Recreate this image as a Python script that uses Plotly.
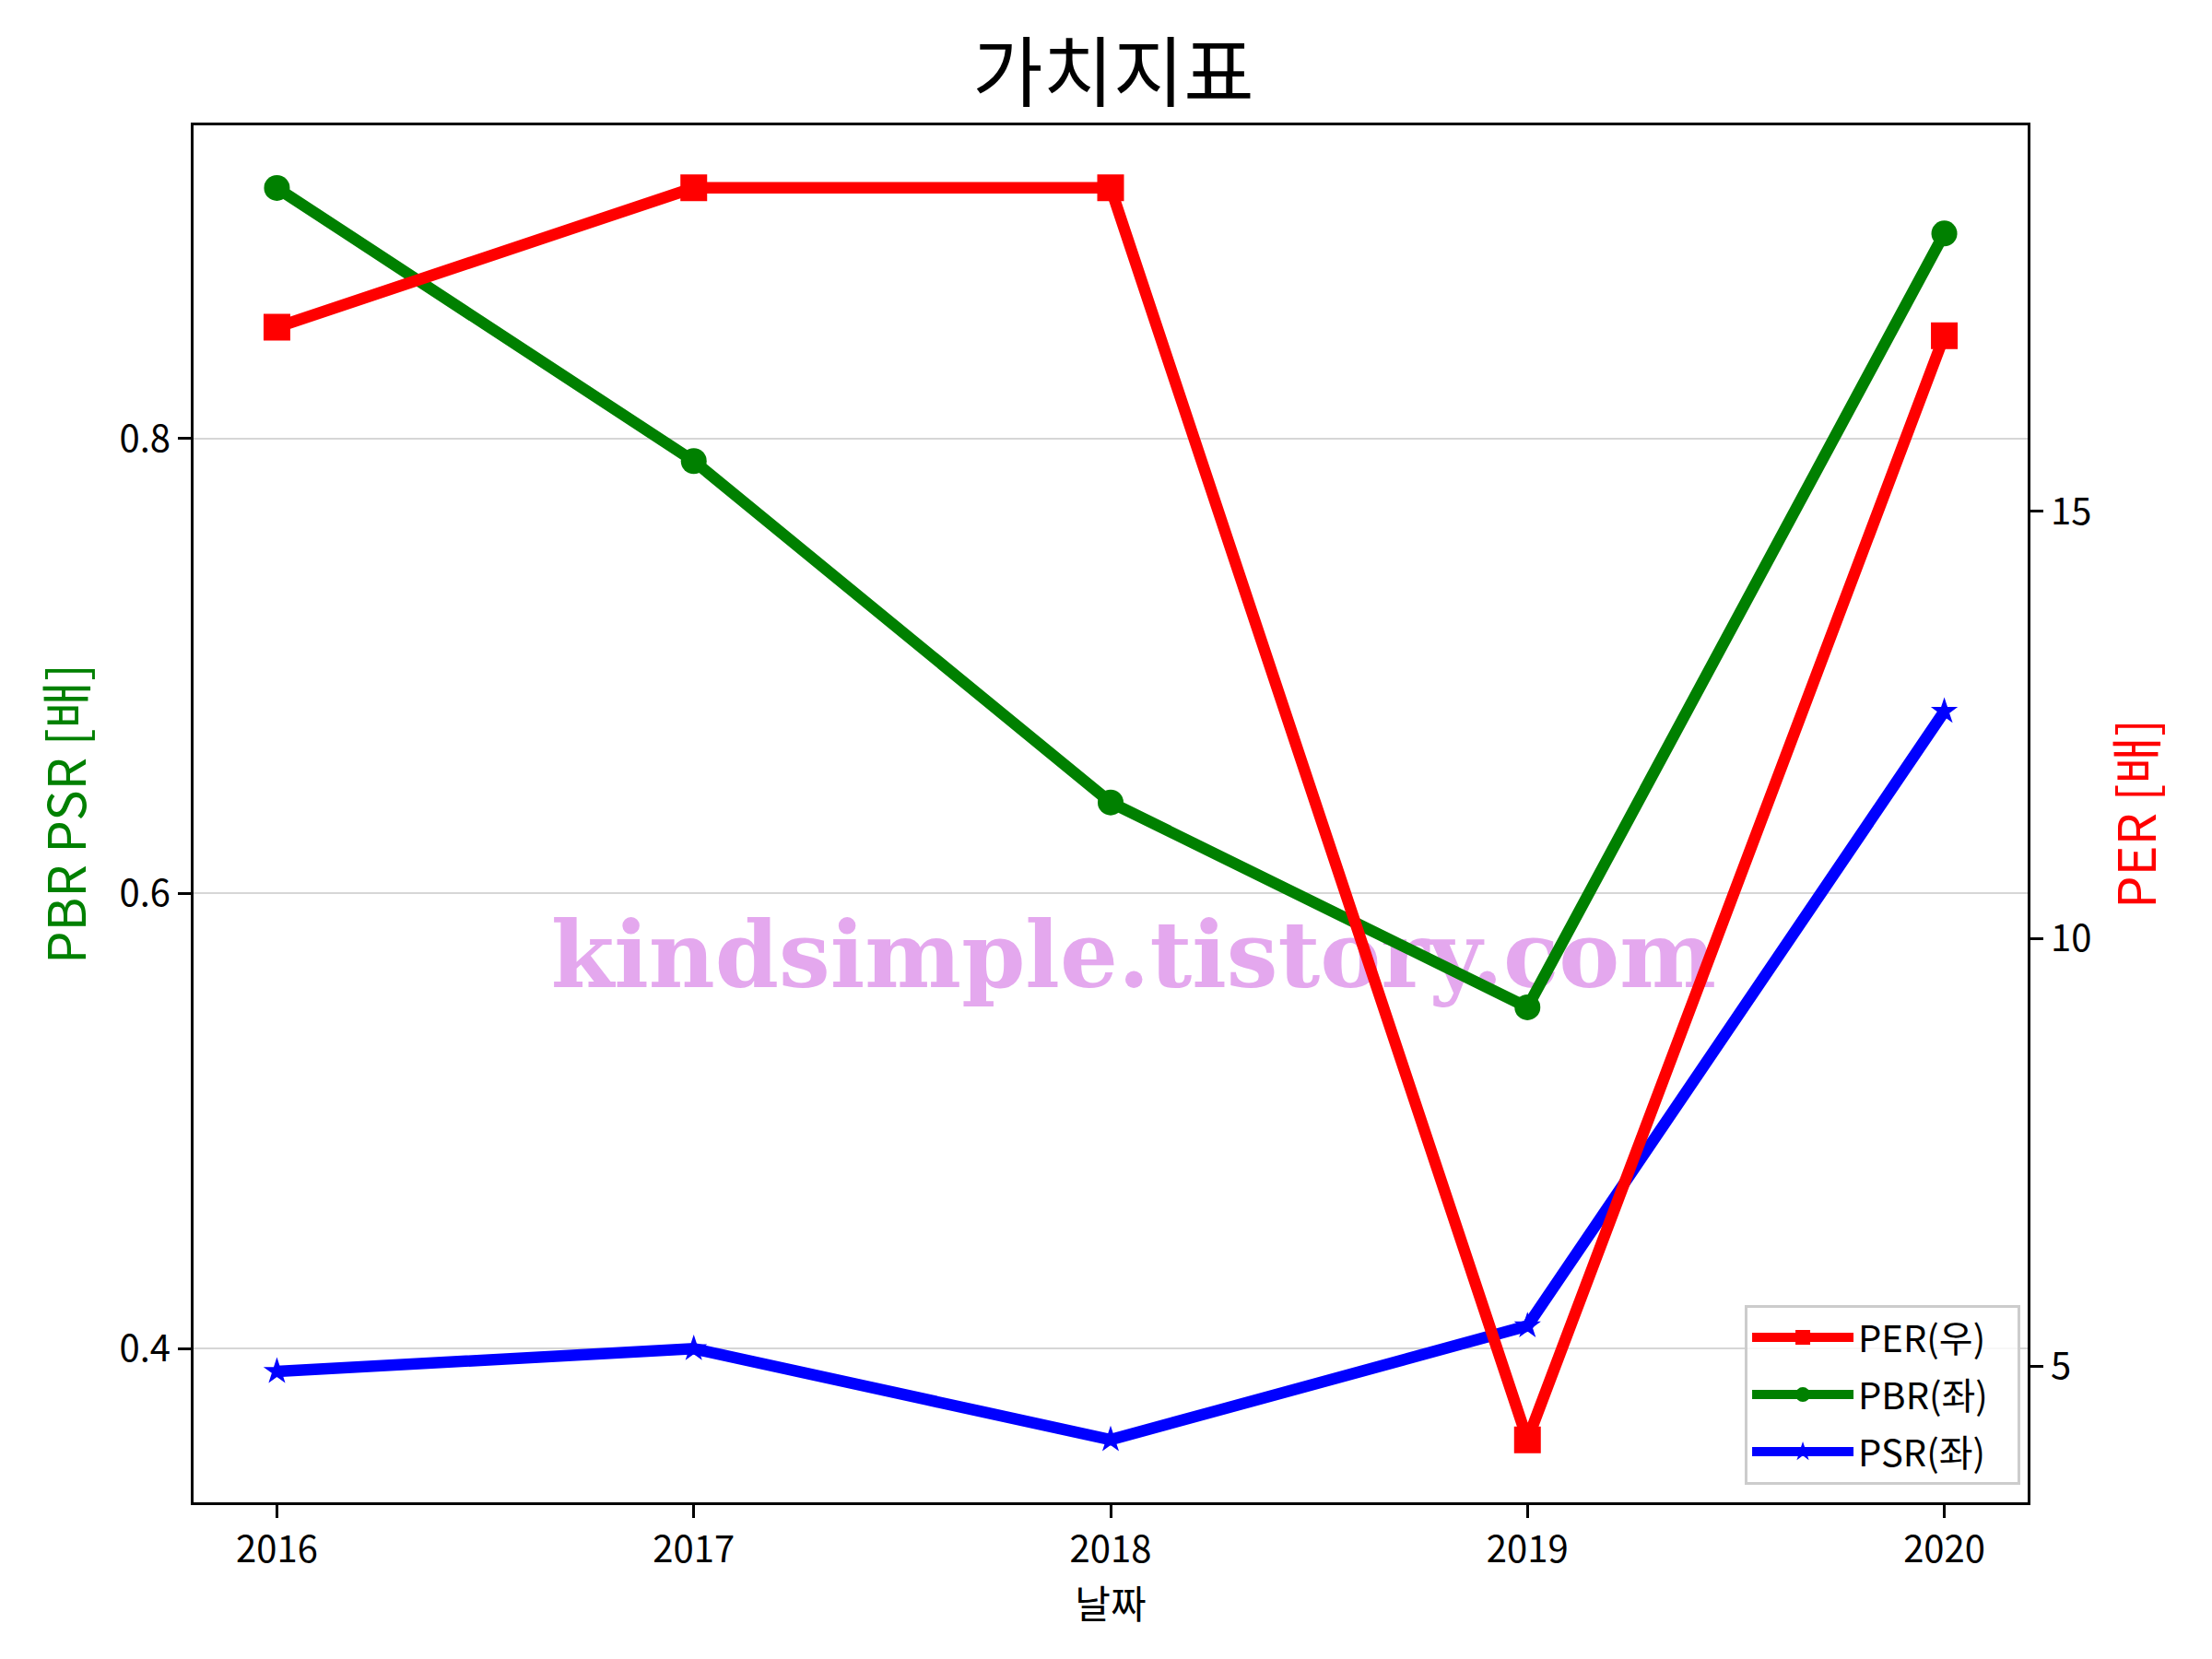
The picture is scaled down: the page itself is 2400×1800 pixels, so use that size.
import plotly.graph_objects as go

years = [2016, 2017, 2018, 2019, 2020]
per = [17.15, 18.78, 18.78, 4.14, 17.05]
pbr = [0.91, 0.79, 0.64, 0.55, 0.89]
psr = [0.39, 0.40, 0.36, 0.41, 0.68]

title_text = '가치지표'
watermark = 'kindsimple.tistory.com'
kfont = 'Noto Sans CJK KR'
pad = '\u00a0\u00a0\u00a0'  # a bit of room on the right of the legend text

fig = go.Figure()

# watermark goes first so the lines sit on top of it
fig.add_trace(go.Scatter(
    x=[2018.055], y=[0.569],
    mode='text',
    text=[watermark],
    textposition='middle center',
    textfont={'family': 'DejaVu Serif', 'size': 99, 'color': '#e4a8ee', 'weight': 'bold'},
    showlegend=False,
    hoverinfo='skip',
    ))

fig.add_trace(go.Scatter(
    x=years, y=per,
    mode='lines+markers',
    line={'color': 'red', 'width': 12.5},
    marker={'symbol': 'square', 'size': 29, 'color': 'red'},
    name='PER(우)' + pad,
    legendgroup='a',
    yaxis='y2',
    ))

fig.add_trace(go.Scatter(
    x=years, y=pbr,
    mode='lines+markers',
    line={'color': 'green', 'width': 12.5},
    marker={'symbol': 'circle', 'size': 28, 'color': 'green'},
    name='PBR(좌)' + pad,
    legendgroup='b',
    ))

fig.add_trace(go.Scatter(
    x=years, y=psr,
    mode='lines+markers',
    line={'color': 'blue', 'width': 12.5},
    marker={'symbol': 'star', 'size': 22, 'color': 'blue'},
    name='PSR(좌)' + pad,
    legendgroup='c',
    ))

axis_common = {'showline': True, 'linecolor': 'black', 'linewidth': 3,
               'ticks': 'outside', 'ticklen': 14, 'tickwidth': 3, 'tickcolor': 'black',
               'tickfont': {'family': kfont, 'size': 40, 'color': 'black'},
               'zeroline': False, 'automargin': False}

fig.update_layout(
    width=2400,
    height=1800,
    margin={'l': 202, 'r': 208, 't': 128, 'b': 178},
    plot_bgcolor='white',
    paper_bgcolor='white',
    font={'family': kfont, 'color': 'black'},
    title={'text': title_text, 'x': 0.5, 'xanchor': 'center', 'y': 0.960, 'yanchor': 'middle',
           'font': {'family': kfont, 'size': 83, 'color': 'black'}},
    xaxis={**axis_common, 'range': [2015.8, 2020.2], 'tickvals': years, 'tickformat': 'd',
           'mirror': True, 'showgrid': False,
           'title': {'text': '날짜', 'font': {'family': kfont, 'size': 42, 'color': 'black'}, 'standoff': 6}},
    yaxis={**axis_common, 'range': [0.3325, 0.9375], 'tickvals': [0.4, 0.6, 0.8],
           'mirror': True, 'showgrid': True, 'gridcolor': '#d6d6d6', 'gridwidth': 2,
           'title': {'text': 'PBR PSR [배]', 'font': {'family': kfont, 'size': 56, 'color': 'green'}, 'standoff': 18}},
    yaxis2={**axis_common, 'range': [3.41, 19.51], 'tickvals': [5, 10, 15],
            'overlaying': 'y', 'side': 'right', 'showgrid': False,
            'title': {'text': 'PER [배]', 'font': {'family': kfont, 'size': 56, 'color': 'red'}, 'standoff': 32}},
    legend={'x': 0.996, 'xanchor': 'right', 'y': 0.013, 'yanchor': 'bottom',
            'bgcolor': 'rgba(255,255,255,0.8)', 'bordercolor': '#cccccc', 'borderwidth': 3,
            'font': {'family': kfont, 'size': 40, 'color': 'black'}, 'itemwidth': 110,
            'tracegroupgap': 7, 'traceorder': 'grouped'},
    showlegend=True,
    )

fig.write_html('out.html')
